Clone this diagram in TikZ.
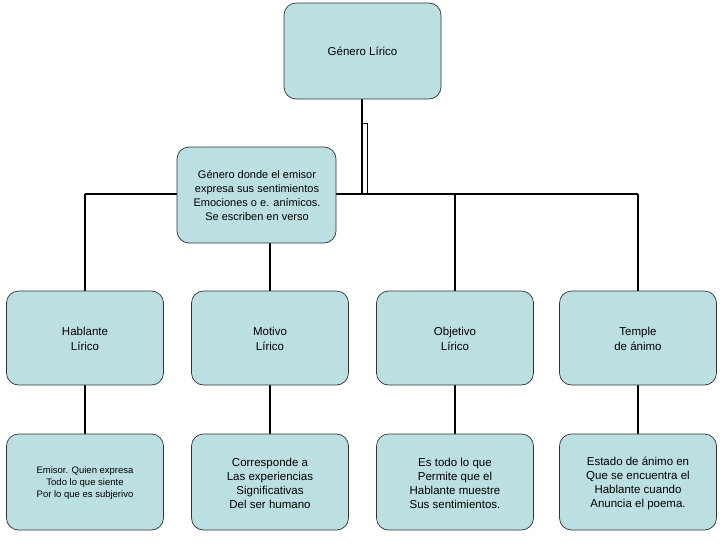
\documentclass[tikz,border=0pt]{standalone}
\usepackage{fontspec}
\setmainfont{Liberation Sans}
\begin{document}
\begin{tikzpicture}[x=1pt,y=-1pt,
  bx/.style={draw=black!80,fill=cyan!15!teal!10!white,fill=boxc,rounded corners=12pt,line width=0.7pt},
  txt/.style={align=center,font=\fontsize{11.5}{14.5}\selectfont},
  ln/.style={line width=1.4pt}]
\definecolor{boxc}{HTML}{BCE0E2}
\useasboundingbox (0,0) rectangle (728,546);
\draw[ln] (85,194) -- (638,194);
\draw[ln] (362,99) -- (362,194);
\draw[line width=0.9pt] (362,123) -- (367,123) -- (367,194);
\foreach \x in {85,455,638} \draw[ln] (\x,194) -- (\x,291);
\draw[ln] (270,243) -- (270,291);
\foreach \x in {85,270,455,638} \draw[ln] (\x,385) -- (\x,434);
\draw[bx] (284,3) rectangle (441,99);
\node[txt] (top) at (362.5,51) {Género Lírico};
\draw[bx] (177,147) rectangle (336,243);
\node[txt,font=\fontsize{11}{14}\selectfont] (desc) at (257,196) {Género donde el emisor\\expresa sus sentimientos\\Emociones o e. anímicos.\\Se escriben en verso};
\foreach \x/\n/\t in {85/a/{Hablante\\Lírico},270/b/{Motivo\\Lírico},455/c/{Objetivo\\Lírico},638/d/{Temple\\de ánimo}}{
  \draw[bx] (\x-78.5,291) rectangle (\x+78.5,385);
  \node[txt] (\n) at (\x,339) {\t};
}
\foreach \x in {85,270,455,638} \draw[bx] (\x-78.5,434) rectangle (\x+78.5,530);
\node[txt,font=\fontsize{9.5}{12}\selectfont] (e) at (85,483) {Emisor. Quien expresa\\Todo lo que siente\\Por lo que es subjerivo};
\node[txt,font=\fontsize{11.5}{14}\selectfont] (f) at (270,483) {Corresponde a\\Las experiencias\\Significativas\\Del ser humano};
\node[txt,font=\fontsize{11.5}{14}\selectfont] (g) at (455,483) {Es todo lo que\\Permite que el\\Hablante muestre\\Sus sentimientos.};
\node[txt,font=\fontsize{11.5}{14}\selectfont] (h) at (638,483) {Estado de ánimo en\\Que se encuentra el\\Hablante cuando\\Anuncia el poema.};
\end{tikzpicture}
\end{document}
